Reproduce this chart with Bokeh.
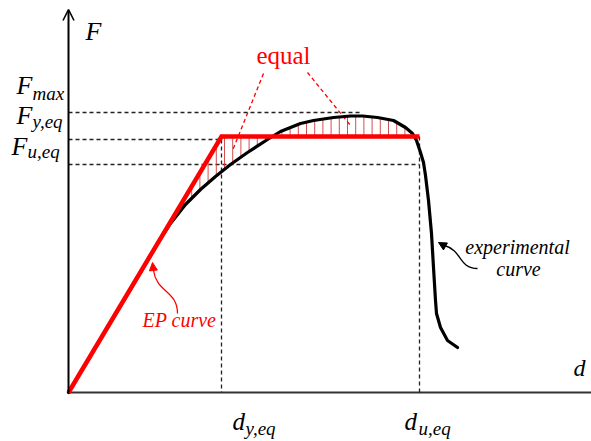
import numpy as np
from bokeh.plotting import figure
from bokeh.models import Range1d, Arrow, OpenHead, NormalHead
from bokeh.core.properties import value
from bokeh.embed import file_html
from bokeh.resources import INLINE

# ---- data (displacement d, force F; arbitrary units) ----
exp_d = [0, 32, 62, 89, 102, 117, 132, 147, 162, 179, 199, 212, 222, 232, 245, 265,
         282, 294, 309, 325, 337, 344, 348, 352, 355, 357, 360, 363, 365, 367, 368, 372, 379, 389]
exp_F = [0, 53, 103, 149, 169, 188, 203, 216, 228, 240, 253, 261, 265, 269, 272, 275,
         276.5, 276.5, 275, 272, 265, 259, 252, 240, 230, 217, 192, 159, 125, 92, 79, 65, 52, 45]
ep_d = [0, 153, 351]
ep_F = [0, 256, 256]

F_max = 280
F_y_eq = 253
F_u_eq = 228
d_Fmax = 294
d_y_eq = 153
d_u_eq = 351

RED = "#ff0000"
SERIF = value("Liberation Serif")

p = figure(width=591, height=441, x_range=Range1d(-68, 523), y_range=Range1d(-49, 392),
           output_backend="svg", toolbar_location=None, x_axis_type=None, y_axis_type=None,
           min_border=0)
p.grid.visible = False
p.outline_line_color = None
p.background_fill_color = "white"
p.border_fill_color = "white"

# axes
p.segment(x0=[0], y0=[0], x1=[p.x_range.end], y1=[0], line_color="#333333", line_width=2)
p.add_layout(Arrow(end=OpenHead(size=11, line_width=1.6, line_color="black"),
                   x_start=0, y_start=0, x_end=0, y_end=383, line_width=2, line_color="black"))

# dashed guides
p.segment(x0=[0, 0, 0, d_y_eq, d_u_eq],
          y0=[F_max, F_y_eq, F_u_eq, F_y_eq, ep_F[1]],
          x1=[d_Fmax, d_y_eq, d_u_eq, d_y_eq, d_u_eq],
          y1=[F_max, F_y_eq, F_u_eq, 0, 0],
          line_color="#222222", line_width=1.3, line_dash="4 3")

# hatching between EP and experimental curves
hx = np.arange(115, 349, 8.2)
h_ep = np.interp(hx, ep_d, ep_F)
h_ex = np.interp(hx, exp_d, exp_F)
p.segment(x0=hx, y0=h_ep, x1=hx, y1=h_ex, line_color="#cc3030", line_width=1, line_alpha=0.85)

# red leader lines for "equal"
p.segment(x0=[195, 239], y0=[319, 320], x1=[164, 282], y1=[242, 267],
          line_color=RED, line_width=1.3, line_dash="4 3")

# curves
p.line(exp_d, exp_F, line_color="black", line_width=3.2, line_join="round", line_cap="round")
p.line(ep_d, ep_F, line_color=RED, line_width=4.5, line_join="miter")

# annotation arrows
p.bezier(x0=[109], y0=[79], x1=[85], y1=[122], cx0=[109], cy0=[102], cx1=[88], cy1=[100],
         line_color=RED, line_width=1.3)
p.add_layout(Arrow(end=NormalHead(size=8, fill_color=RED, line_color=RED),
                   x_start=85, y_start=121, x_end=84, y_end=130, line_width=1.3, line_color=RED))
p.bezier(x0=[409], y0=[124], x1=[376], y1=[147], cx0=[390], cy0=[124], cx1=[394], cy1=[142],
         line_color="black", line_width=1.3)
p.add_layout(Arrow(end=NormalHead(size=8, fill_color="black", line_color="black"),
                   x_start=377, y_start=146, x_end=370, y_end=150, line_width=1.3, line_color="black"))

def txt(x, y, s, size, color="black", style="italic", align="left"):
    # y is the wanted baseline; compensate for the renderer's baseline placement
    p.text(x=[x], y=[y + 0.45 * size], text=[s], text_font=SERIF, text_font_size=f"{size}px",
           text_font_style=style, text_color=color, text_align=align, text_baseline="alphabetic")

# axis titles
txt(17, 349, "F", 26)
txt(505, 14, "d", 24)
# F levels
txt(-52, 295, "F", 26); txt(-36, 290, "max", 19)
txt(-52, 265, "F", 26); txt(-36, 262, "y,eq", 19)
txt(-57, 234, "F", 26); txt(-41, 232, "u,eq", 19)
# d levels
txt(164, -40, "d", 25); txt(177, -45, "y,eq", 19)
txt(336, -40, "d", 25); txt(350, -45, "u,eq", 19)
# annotations
txt(215, 326, "equal", 25, color=RED, style="normal", align="center")
txt(74, 64, "EP curve", 20, color=RED)
txt(449, 137, "experimental", 20, align="center")
txt(450, 115, "curve", 20, align="center")

open("out.html", "w").write(file_html(p, INLINE))
